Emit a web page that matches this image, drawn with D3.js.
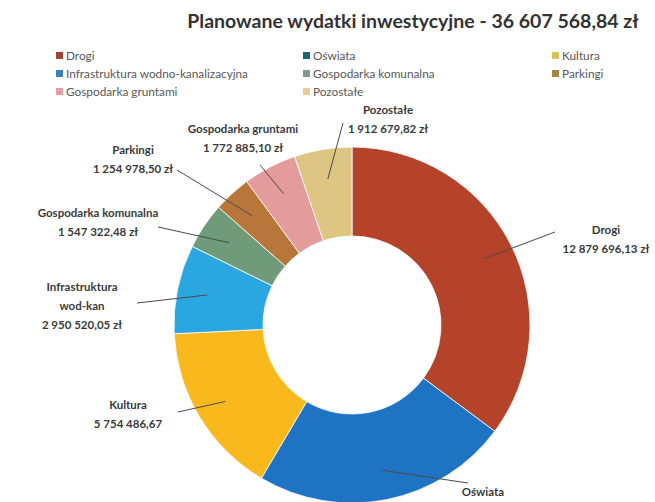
<!DOCTYPE html>
<html><head><meta charset="utf-8">
<script src="https://cdn.jsdelivr.net/npm/d3@7"></script>
<style>body{margin:0;background:#fff;}svg{display:block;}</style>
</head><body>
<script>
const categories = ["Drogi","Oświata","Kultura","Infrastruktura wodno-kanalizacyjna","Gospodarka komunalna","Parkingi","Gospodarka gruntami","Pozostałe"];
const values = [12879696.13, 8535000.09, 5754486.67, 2950520.05, 1547322.48, 1254978.50, 1772885.10, 1912679.82];
const labelNames = [["Drogi"],["Oświata"],["Kultura"],["Infrastruktura","wod-kan"],["Gospodarka komunalna"],["Parkingi"],["Gospodarka gruntami"],["Pozostałe"]];
const labelValues = ["12 879 696,13 zł","8 535 000,09 zł","5 754 486,67","2 950 520,05 zł","1 547 322,48 zł","1 254 978,50 zł","1 772 885,10 zł","1 912 679,82 zł"];
const title = "Planowane wydatki inwestycyjne - 36 607 568,84 zł";

const sliceColors = ["#B5432A","#1E73C3","#F9B91C","#2AA6E0","#6F9B7A","#B8763A","#E49B9C","#DDC583"];
const legendColors = ["#A04535","#1F6373","#D9C25A","#3D7FBF","#7F9A88","#A78545","#E5A0A5","#EBCB9A"];
// layout: label centre (x, first-line y) and leader outer end
const labelPos = [[606,234,555,232],[483,496,468,483],[128,409,178,412],[82,291,137,303],[98,217,158,227],[133,154,177,170],[243,133,260,165],[388,114,343,123]];
const legendOrder = [0,1,2,3,4,5,6,7];
const legendPos = [[56,56],[303,56],[552,56],[56,74],[303,74],[552,74],[56,92],[303,92]];

const W=655,H=502;
const svg=d3.select("body").append("svg").attr("width",W).attr("height",H);
const cx=352, cy=325, R=178, r=89;

svg.append("text").attr("x",413).attr("y",28).attr("text-anchor","middle")
  .attr("font-family","Lato, 'Open Sans', sans-serif").attr("font-weight","bold").attr("font-size",19.5)
  .attr("fill","#333").text(title);

const lg=svg.append("g");
legendOrder.forEach((i,k)=>{
  const [x,y]=legendPos[k];
  lg.append("rect").attr("x",x).attr("y",y-4).attr("width",7).attr("height",7).attr("fill",legendColors[i]);
  lg.append("text").attr("x",x+10).attr("y",y+3.5).attr("font-family","Lato, sans-serif").attr("font-size",11.8)
    .attr("fill","#595959").text(categories[i]);
});

const pie=d3.pie().sort(null).value(d=>d)(values);
const arc=d3.arc().innerRadius(r).outerRadius(R);
const g=svg.append("g").attr("transform",`translate(${cx},${cy})`);
g.selectAll("path").data(pie).join("path").attr("d",arc)
  .attr("fill",(d,i)=>sliceColors[i]).attr("stroke","#fff").attr("stroke-width",0.8);

const lr=d3.arc().innerRadius(148).outerRadius(148);
pie.forEach((d,i)=>{
  const c=lr.centroid(d);
  const p=labelPos[i];
  svg.append("line").attr("x1",p[2]).attr("y1",p[3]).attr("x2",cx+c[0]).attr("y2",cy+c[1])
    .attr("stroke","#4a4a4a").attr("stroke-width",1);
  const lines=labelNames[i].concat([labelValues[i]]);
  lines.forEach((t,j)=>{
    const y=p[1]+j*19;
    if(y>H) return;
    svg.append("text").attr("x",p[0]).attr("y",y).attr("text-anchor","middle")
      .attr("font-family","Lato, sans-serif").attr("font-weight","bold").attr("font-size",11.5)
      .attr("fill","#3a3a3a").text(t);
  });
});
</script>
</body></html>
